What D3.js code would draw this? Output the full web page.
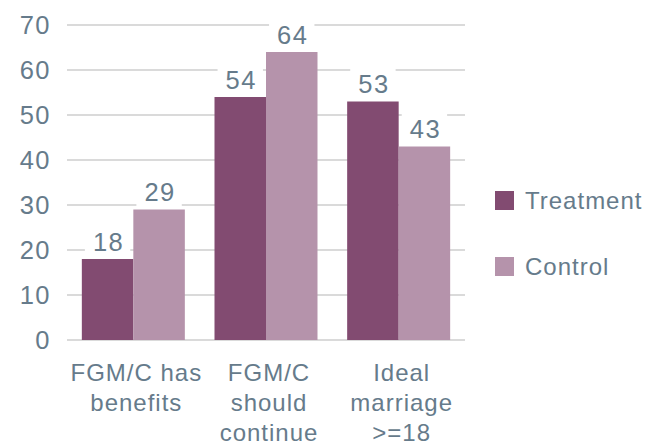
<!DOCTYPE html>
<html>
<head>
<meta charset="utf-8">
<script src="https://cdn.jsdelivr.net/npm/d3@7"></script>
<style>
  html, body { margin: 0; padding: 0; background: #ffffff; }
  svg text { font-family: "Liberation Sans", Arial, sans-serif; font-size: 24px; fill: #667b8b; letter-spacing: 1px; }
  svg text.num { font-size: 25.5px; letter-spacing: 1.5px; }
</style>
</head>
<body>
<svg id="chart" width="653" height="445"></svg>
<script>
// Survey outcomes by group (percent)
const categories = [
  ["FGM/C has", "benefits"],
  ["FGM/C", "should", "continue"],
  ["Ideal", "marriage", ">=18"]
];
const seriesNames = ["Treatment", "Control"];
const treatment = [18, 54, 53];
const control = [29, 64, 43];
const yTicks = [0, 10, 20, 30, 40, 50, 60, 70];

const colors = { Treatment: "#824b71", Control: "#b593ab" };
const values = { Treatment: treatment, Control: control };

const svg = d3.select("#chart");
const catKeys = categories.map(c => c.join(" "));

const x0 = d3.scaleBand().domain(catKeys).range([67, 465]).paddingInner(0).paddingOuter(0);
const x1 = d3.scaleBand().domain(seriesNames).range([0, x0.bandwidth()]).paddingInner(0).paddingOuter(0.288);
const y = d3.scaleLinear().domain([0, 70]).range([340, 25]);

// horizontal gridlines
svg.append("g").selectAll("line").data(yTicks).join("line")
  .attr("x1", 67).attr("x2", 465)
  .attr("y1", d => y(d)).attr("y2", d => y(d))
  .attr("stroke", "#dadada").attr("stroke-width", 2);

// y tick labels
svg.append("g").selectAll("text").data(yTicks).join("text")
  .attr("class", "num")
  .attr("x", 51).attr("y", d => y(d) + 9)
  .attr("text-anchor", "end")
  .text(d => d);

// bars
const rows = [];
seriesNames.forEach(s => values[s].forEach((v, i) => rows.push({ s, cat: catKeys[i], v })));

svg.append("g").selectAll("rect").data(rows).join("rect")
  .attr("x", d => x0(d.cat) + x1(d.s))
  .attr("width", x1.bandwidth())
  .attr("y", d => y(d.v))
  .attr("height", d => y(0) - y(d.v))
  .attr("fill", d => colors[d.s]);

// value labels on white boxes
const lab = svg.append("g").selectAll("g").data(rows).join("g");
lab.each(function (d) {
  const g = d3.select(this);
  const cx = x0(d.cat) + x1(d.s) + x1.bandwidth() / 2;
  const base = y(d.v) - 8.5;
  const t = g.append("text").attr("class", "num")
    .attr("x", cx + 1).attr("y", base).attr("text-anchor", "middle").text(d.v);
  const w = t.node().getComputedTextLength();
  g.insert("rect", "text")
    .attr("x", cx - w / 2 - 7).attr("width", w + 14)
    .attr("y", base - 25).attr("height", 32)
    .attr("fill", "#ffffff");
});

// category labels
const xl = svg.append("g").selectAll("text").data(categories).join("text")
  .attr("text-anchor", "middle")
  .attr("transform", (d, i) => `translate(${x0(catKeys[i]) + x0.bandwidth() / 2 + 3},381)`);
xl.selectAll("tspan").data(d => d).join("tspan")
  .attr("x", 0).attr("y", (d, i) => i * 30)
  .text(d => d);

// legend
const leg = svg.append("g").selectAll("g").data(seriesNames).join("g")
  .attr("transform", (d, i) => `translate(495,${191 + i * 66})`);
leg.append("rect").attr("width", 19).attr("height", 19).attr("fill", d => colors[d]);
leg.append("text").attr("x", 30).attr("y", 18).text(d => d);
</script>
</body>
</html>
